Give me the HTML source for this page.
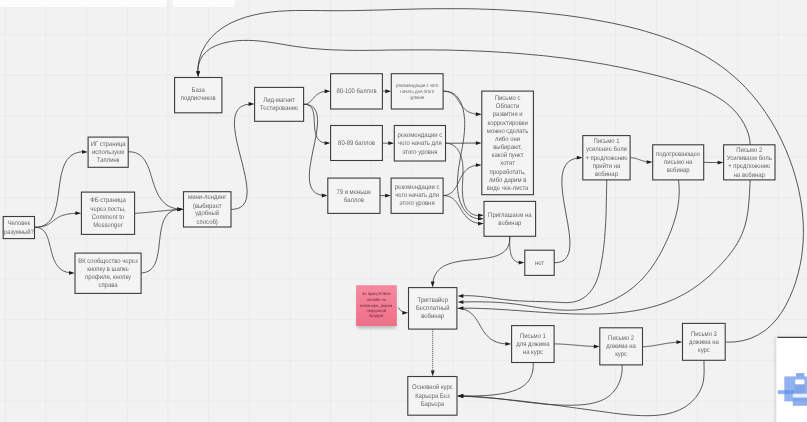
<!DOCTYPE html>
<html><head><meta charset="utf-8"><title>Воронка</title>
<style>
html,body{margin:0;padding:0;background:#f2f2f2;}
body{width:807px;height:422px;overflow:hidden;}
text{text-rendering:geometricPrecision;}
body{position:relative;}
svg{position:absolute;left:-10px;top:-10px;display:block;font-family:"Liberation Sans",sans-serif;opacity:0.999;will-change:transform;}
</style></head><body>
<svg width="827" height="442" viewBox="-10 -10 827 442">
<defs>
<pattern id="grid" x="4.6" y="34.2" width="40.7" height="40.7" patternUnits="userSpaceOnUse"><path d="M0.5 0V40.7M0 0.5H40.7" stroke="#eaeaea" stroke-width="1" fill="none"/></pattern>
<linearGradient id="st" x1="0" y1="0" x2="0" y2="1"><stop offset="0" stop-color="#f48a9d"/><stop offset="1" stop-color="#ef6f89"/></linearGradient>
<filter id="sh" x="-20%" y="-20%" width="140%" height="150%"><feGaussianBlur stdDeviation="1.6"/></filter>
</defs>
<rect x="-10" y="-10" width="827" height="442" fill="#f2f2f2"/>
<rect x="-10" y="-10" width="827" height="442" fill="url(#grid)"/>
<rect x="-12" y="-12" width="179" height="19" rx="1.5" fill="#fdfdfd"/>
<rect x="173" y="-12" width="61.5" height="19" rx="1.5" fill="#fdfdfd"/>
<g fill="none" stroke="#3a3a3a" stroke-width="0.85" stroke-linecap="butt" stroke-linejoin="round">
<path d="M34.5 227.3 36.5 227.2 38.3 227.1 40.1 226.7 41.7 226.3 43.2 225.7 44.7 225.1 46.0 224.3 47.2 223.4 48.3 222.4 49.4 221.3 50.4 220.1 51.3 218.9 52.1 217.5 52.8 216.1 53.5 214.6 54.2 213.1 54.7 211.5 55.3 209.8 55.7 208.1 56.2 206.3 56.6 204.5 56.9 202.6 57.3 200.7 57.6 198.8 57.9 196.9 58.2 194.9 58.5 193.0 58.7 191.0 59.0 189.0 59.2 187.0 59.5 185.1 59.8 183.1 60.1 181.2 60.4 179.2 60.8 177.3 61.1 175.5 61.5 173.6 62.0 171.8 62.5 170.1 63.0 168.4 63.6 166.7 64.2 165.1 64.9 163.6 65.7 162.2 66.5 160.8 67.4 159.5 68.4 158.3 69.5 157.1 70.6 156.1 71.9 155.2 73.2 154.3 74.6 153.6 76.2 153.0 77.8 152.5 79.6 152.1 81.4 151.8 83.4 151.7 84.6 151.7"/>
<path d="M34.5 227.3 35.7 227.3 36.8 227.2 37.8 227.2 38.8 227.1 39.8 227.0 40.7 226.8 41.6 226.7 42.4 226.5 43.2 226.3 44.0 226.1 44.7 225.9 45.4 225.7 46.0 225.4 46.6 225.2 47.2 224.9 47.8 224.6 48.4 224.3 48.9 224.0 49.4 223.7 49.9 223.4 50.4 223.0 50.9 222.7 51.3 222.3 51.8 222.0 52.3 221.6 52.7 221.3 53.2 220.9 53.6 220.6 54.1 220.2 54.6 219.8 55.0 219.5 55.5 219.1 56.0 218.8 56.6 218.4 57.1 218.1 57.7 217.7 58.2 217.4 58.8 217.0 59.5 216.7 60.1 216.4 60.8 216.1 61.6 215.8 62.3 215.5 63.1 215.3 64.0 215.0 64.8 214.8 65.8 214.5 66.7 214.3 67.8 214.1 68.8 213.9 70.0 213.8 71.2 213.6 72.4 213.5 73.7 213.4 75.1 213.3 76.5 213.2 78.0 213.2 78.0 213.2"/>
<path d="M34.5 227.3 35.7 227.3 36.8 227.4 37.8 227.6 38.8 227.8 39.7 228.1 40.6 228.5 41.4 228.9 42.2 229.4 42.9 230.0 43.6 230.6 44.2 231.3 44.8 232.1 45.3 232.9 45.8 233.7 46.3 234.6 46.7 235.5 47.2 236.5 47.6 237.5 47.9 238.5 48.3 239.5 48.6 240.6 48.9 241.7 49.2 242.8 49.5 244.0 49.8 245.2 50.1 246.3 50.4 247.5 50.7 248.7 51.0 249.9 51.3 251.1 51.6 252.3 51.9 253.4 52.3 254.6 52.6 255.8 53.0 256.9 53.4 258.1 53.8 259.2 54.3 260.3 54.8 261.3 55.3 262.4 55.8 263.4 56.4 264.4 57.0 265.3 57.7 266.2 58.4 267.0 59.2 267.9 60.0 268.6 60.9 269.3 61.8 270.0 62.8 270.6 63.8 271.1 65.0 271.6 66.1 272.0 67.4 272.3 68.7 272.6 70.1 272.8 71.6 272.9"/>
<path d="M128.2 151.8 129.8 151.8 131.4 151.9 132.8 152.1 134.2 152.4 135.5 152.8 136.8 153.3 137.9 153.9 139.0 154.5 140.1 155.2 141.0 156.0 141.9 156.8 142.8 157.7 143.6 158.7 144.4 159.7 145.1 160.8 145.8 162.0 146.4 163.1 147.0 164.4 147.6 165.6 148.1 166.9 148.7 168.2 149.2 169.6 149.7 171.0 150.1 172.4 150.6 173.8 151.0 175.3 151.5 176.7 151.9 178.2 152.4 179.7 152.8 181.2 153.3 182.6 153.8 184.1 154.3 185.6 154.8 187.0 155.3 188.4 155.9 189.8 156.5 191.2 157.1 192.6 157.7 193.9 158.4 195.2 159.2 196.5 159.9 197.7 160.8 198.9 161.7 200.1 162.6 201.2 163.6 202.2 164.6 203.2 165.8 204.1 166.9 205.0 168.2 205.8 169.5 206.5 170.9 207.1 172.4 207.7 174.0 208.2 175.7 208.6 177.4 208.9 179.3 209.1 180.1 209.2"/>
<path d="M134.6 213.4 135.0 213.4 135.5 213.4 136.0 213.3 136.6 213.3 137.1 213.3 137.7 213.2 138.3 213.2 139.0 213.1 139.6 213.1 140.3 213.0 141.0 212.9 141.8 212.9 142.5 212.8 143.3 212.7 144.1 212.7 144.9 212.6 145.7 212.5 146.6 212.4 147.4 212.3 148.3 212.3 149.2 212.2 150.1 212.1 151.0 212.0 151.9 211.9 152.8 211.8 153.8 211.7 154.7 211.6 155.7 211.5 156.6 211.4 157.6 211.3 158.6 211.2 159.5 211.1 160.5 211.1 161.5 211.0 162.4 210.9 163.4 210.8 164.4 210.7 165.3 210.6 166.3 210.5 167.3 210.4 168.2 210.3 169.2 210.2 170.1 210.2 171.0 210.1 171.9 210.0 172.9 209.9 173.8 209.9 174.6 209.8 175.5 209.7 176.4 209.7 177.2 209.6 178.0 209.6 178.9 209.5 179.6 209.5 180.1 209.4"/>
<path d="M141.1 272.9 142.6 272.8 144.1 272.6 145.4 272.3 146.7 271.9 147.9 271.4 149.0 270.8 150.0 270.1 150.9 269.4 151.8 268.5 152.6 267.6 153.3 266.6 154.0 265.5 154.6 264.4 155.2 263.2 155.7 261.9 156.2 260.6 156.6 259.3 157.0 257.9 157.3 256.4 157.6 254.9 157.9 253.4 158.2 251.9 158.4 250.3 158.7 248.7 158.9 247.1 159.1 245.4 159.2 243.8 159.4 242.2 159.6 240.5 159.8 238.9 160.0 237.2 160.2 235.6 160.4 234.0 160.7 232.3 161.0 230.8 161.2 229.2 161.6 227.7 161.9 226.2 162.3 224.7 162.7 223.3 163.2 221.9 163.7 220.6 164.3 219.3 164.9 218.1 165.6 216.9 166.4 215.8 167.2 214.8 168.0 213.9 169.0 213.0 170.0 212.2 171.1 211.5 172.3 210.9 173.6 210.3 175.0 209.9 176.4 209.6 178.0 209.3 179.7 209.2 180.1 209.2"/>
<path d="M231.0 209.4 233.3 209.3 235.4 209.0 237.3 208.6 239.0 208.0 240.5 207.2 241.9 206.3 243.0 205.2 244.0 204.0 244.9 202.6 245.6 201.1 246.1 199.5 246.6 197.8 246.8 196.0 247.0 194.0 247.1 192.0 247.1 189.9 246.9 187.7 246.7 185.4 246.4 183.0 246.0 180.6 245.6 178.1 245.1 175.6 244.5 173.0 243.9 170.4 243.3 167.7 242.7 165.1 242.0 162.4 241.3 159.7 240.6 156.9 239.9 154.2 239.2 151.5 238.5 148.8 237.9 146.1 237.3 143.5 236.7 140.8 236.2 138.3 235.7 135.7 235.3 133.2 235.0 130.8 234.7 128.4 234.5 126.1 234.4 123.9 234.5 121.8 234.6 119.7 234.8 117.8 235.2 115.9 235.7 114.2 236.3 112.5 237.1 111.0 238.0 109.7 239.1 108.4 240.3 107.3 241.7 106.4 243.4 105.6 245.2 104.9 247.1 104.5 249.4 104.2 251.2 104.1"/>
<path d="M303.6 104.4 304.1 104.4 304.6 104.3 305.1 104.2 305.6 104.1 306.1 104.0 306.5 103.9 306.9 103.7 307.3 103.6 307.7 103.4 308.1 103.2 308.5 103.0 308.8 102.7 309.2 102.5 309.5 102.2 309.8 101.9 310.2 101.7 310.5 101.4 310.8 101.1 311.1 100.8 311.4 100.4 311.7 100.1 312.0 99.8 312.3 99.5 312.6 99.1 312.9 98.8 313.2 98.4 313.5 98.1 313.8 97.7 314.1 97.4 314.4 97.1 314.7 96.7 315.0 96.4 315.4 96.0 315.7 95.7 316.1 95.4 316.5 95.1 316.8 94.7 317.2 94.4 317.6 94.1 318.1 93.9 318.5 93.6 319.0 93.3 319.5 93.1 320.0 92.8 320.5 92.6 321.0 92.4 321.6 92.2 322.2 92.0 322.8 91.8 323.4 91.7 324.1 91.6 324.8 91.4 325.5 91.4 326.2 91.3 327.0 91.2 327.2 91.2"/>
<path d="M303.6 104.3 304.6 104.3 305.6 104.4 306.5 104.5 307.3 104.7 308.1 105.0 308.8 105.3 309.5 105.7 310.1 106.1 310.6 106.6 311.1 107.2 311.5 107.8 311.9 108.4 312.3 109.1 312.6 109.8 312.9 110.6 313.1 111.4 313.3 112.2 313.5 113.1 313.7 114.0 313.8 114.9 313.9 115.9 314.0 116.8 314.1 117.8 314.2 118.8 314.2 119.8 314.3 120.8 314.3 121.8 314.4 122.8 314.4 123.9 314.5 124.9 314.6 125.9 314.6 126.9 314.7 128.0 314.8 129.0 314.9 130.0 315.1 130.9 315.2 131.9 315.4 132.8 315.7 133.7 315.9 134.6 316.2 135.5 316.5 136.3 316.9 137.1 317.3 137.8 317.7 138.6 318.2 139.2 318.8 139.9 319.4 140.4 320.1 141.0 320.8 141.5 321.6 141.9 322.4 142.3 323.3 142.6 324.3 142.8 325.4 143.0 326.5 143.2 327.2 143.2"/>
<path d="M303.6 104.3 305.5 104.4 307.3 104.6 308.9 105.0 310.3 105.5 311.6 106.2 312.8 107.0 313.8 107.9 314.6 109.0 315.4 110.1 316.0 111.4 316.5 112.8 316.9 114.3 317.2 115.9 317.4 117.5 317.5 119.3 317.6 121.1 317.5 123.0 317.4 125.0 317.2 127.0 317.0 129.1 316.7 131.3 316.4 133.5 316.0 135.7 315.6 137.9 315.1 140.2 314.7 142.5 314.2 144.9 313.7 147.2 313.2 149.5 312.7 151.9 312.3 154.2 311.8 156.6 311.3 158.9 310.9 161.2 310.6 163.4 310.2 165.7 309.9 167.9 309.7 170.0 309.5 172.1 309.4 174.2 309.3 176.2 309.4 178.1 309.5 180.0 309.7 181.7 310.0 183.4 310.4 185.0 310.9 186.6 311.5 188.0 312.2 189.3 313.1 190.5 314.1 191.6 315.2 192.6 316.5 193.4 318.0 194.1 319.5 194.7 321.3 195.1 323.2 195.4 324.4 195.5"/>
<path d="M382.4 91.2 383.2 91.2 384.0 91.2 384.8 91.2 385.6 91.2 386.4 91.2 387.1 91.2 387.9 91.2"/>
<path d="M382.4 143.2 383.5 143.2 384.5 143.2 385.6 143.2 386.7 143.2 387.7 143.2 388.8 143.2 389.8 143.2 390.9 143.2"/>
<path d="M380.0 195.6 381.0 195.6 382.0 195.6 383.0 195.6 384.0 195.6 385.0 195.6 385.9 195.6 386.9 195.6 387.7 195.6"/>
<path d="M443.1 91.2 444.1 91.2 445.1 91.3 446.0 91.4 446.8 91.5 447.7 91.7 448.4 91.9 449.2 92.2 449.9 92.4 450.6 92.7 451.2 93.1 451.8 93.4 452.4 93.8 453.0 94.2 453.5 94.7 454.0 95.1 454.5 95.6 455.0 96.1 455.4 96.6 455.9 97.1 456.3 97.6 456.7 98.2 457.1 98.7 457.5 99.3 457.9 99.9 458.2 100.5 458.6 101.0 459.0 101.6 459.4 102.2 459.8 102.8 460.1 103.4 460.5 104.0 460.9 104.6 461.3 105.2 461.8 105.8 462.2 106.3 462.6 106.9 463.1 107.5 463.6 108.0 464.1 108.5 464.6 109.0 465.2 109.5 465.8 110.0 466.4 110.5 467.0 110.9 467.7 111.4 468.4 111.8 469.2 112.1 470.0 112.5 470.8 112.8 471.6 113.1 472.5 113.4 473.5 113.6 474.5 113.8 475.6 113.9 476.7 114.1 477.8 114.2 478.4 114.2"/>
<path d="M443.1 91.2 444.8 91.2 446.5 91.3 448.0 91.6 449.5 91.9 450.9 92.4 452.1 92.9 453.3 93.6 454.5 94.3 455.5 95.2 456.5 96.1 457.4 97.0 458.2 98.1 459.0 99.2 459.7 100.4 460.3 101.6 460.9 102.8 461.4 104.1 461.9 105.4 462.4 106.8 462.7 108.2 463.1 109.6 463.4 110.9 463.7 112.3 463.9 113.7 464.1 115.1 464.3 116.5 464.4 117.9 464.6 119.3 464.6 120.7 464.7 122.1 464.7 123.4 464.7 124.8 464.7 126.2 464.7 127.6 464.6 129.0 464.5 130.4 464.4 131.8 464.3 133.2 464.1 134.6 464.0 136.0 463.8 137.3 463.6 138.7 463.4 140.1 463.2 141.5 463.0 142.9 462.8 144.3 462.5 145.8 462.3 147.2 462.1 148.6 461.8 150.0 461.5 151.4 461.3 152.8 461.0 154.2 460.8 155.7 460.5 157.1 460.3 158.5 460.0 160.0 459.7 161.4 459.5 162.8 459.3 164.3 459.0 165.7 458.8 167.2 458.6 168.7 458.4 170.1 458.2 171.6 458.1 173.0 457.9 174.5 457.8 176.0 457.7 177.4 457.6 178.9 457.5 180.3 457.4 181.8 457.4 183.2 457.4 184.7 457.4 186.1 457.5 187.5 457.6 188.9 457.7 190.3 457.9 191.7 458.0 193.1 458.3 194.5 458.5 195.8 458.8 197.2 459.2 198.5 459.5 199.8 459.9 201.1 460.4 202.4 460.9 203.6 461.5 204.9 462.1 206.1 462.7 207.3 463.4 208.5 464.2 209.6 465.0 210.7 465.8 211.8 466.8 212.8 467.7 213.8 468.7 214.7 469.8 215.5 471.0 216.3 472.1 216.9 473.4 217.5 474.7 218.0 476.1 218.4 477.5 218.7 479.0 218.9 480.5 218.9 480.6 218.9"/>
<path d="M445.5 143.2 448.8 143.2 452.1 143.2 455.3 143.2 458.6 143.2 461.9 143.2 465.2 143.1 468.5 143.1 471.8 143.1 475.0 143.1 478.3 143.1 478.4 143.1"/>
<path d="M445.5 143.2 446.5 143.2 447.5 143.3 448.4 143.5 449.3 143.7 450.1 143.9 451.0 144.2 451.8 144.5 452.5 144.9 453.2 145.4 453.9 145.8 454.6 146.3 455.2 146.9 455.8 147.4 456.4 148.0 457.0 148.7 457.5 149.3 458.0 150.0 458.4 150.7 458.9 151.4 459.3 152.2 459.6 152.9 460.0 153.7 460.3 154.5 460.7 155.3 460.9 156.1 461.2 156.9 461.4 157.7 461.7 158.5 461.9 159.3 462.0 160.2 462.2 161.0 462.3 161.8 462.5 162.7 462.6 163.5 462.7 164.4 462.8 165.2 462.8 166.1 462.9 166.9 462.9 167.8 462.9 168.7 463.0 169.5 463.0 170.4 463.0 171.3 463.0 172.2 463.0 173.1 462.9 174.0 462.9 174.8 462.9 175.7 462.8 176.6 462.8 177.5 462.8 178.4 462.7 179.3 462.7 180.2 462.6 181.1 462.6 182.0 462.6 182.9 462.5 183.8 462.5 184.8 462.5 185.7 462.4 186.6 462.4 187.5 462.4 188.4 462.4 189.3 462.4 190.2 462.4 191.1 462.5 192.1 462.5 193.0 462.6 193.9 462.6 194.8 462.7 195.7 462.8 196.6 462.9 197.5 463.0 198.3 463.2 199.2 463.3 200.1 463.5 200.9 463.7 201.7 463.9 202.6 464.1 203.4 464.4 204.2 464.6 204.9 464.9 205.7 465.3 206.4 465.6 207.1 466.0 207.8 466.4 208.5 466.8 209.2 467.3 209.8 467.7 210.4 468.3 211.0 468.8 211.5 469.4 212.1 470.0 212.6 470.6 213.0 471.3 213.4 472.0 213.8 472.7 214.2 473.4 214.5 474.2 214.8 475.0 215.1 475.9 215.3 476.8 215.4 477.7 215.6 478.6 215.6 479.6 215.7 480.6 215.7 480.6 215.7"/>
<path d="M443.1 195.6 444.1 195.5 445.0 195.4 445.9 195.2 446.8 195.0 447.6 194.8 448.4 194.4 449.1 194.1 449.8 193.7 450.5 193.3 451.2 192.8 451.8 192.4 452.3 191.8 452.9 191.3 453.4 190.7 453.9 190.1 454.4 189.5 454.9 188.8 455.3 188.2 455.8 187.5 456.2 186.8 456.6 186.1 457.0 185.3 457.4 184.6 457.8 183.8 458.1 183.1 458.5 182.3 458.9 181.5 459.3 180.7 459.6 180.0 460.0 179.2 460.4 178.4 460.8 177.6 461.2 176.9 461.6 176.1 462.1 175.4 462.5 174.6 463.0 173.9 463.5 173.2 464.0 172.5 464.5 171.9 465.1 171.2 465.7 170.6 466.3 170.0 466.9 169.4 467.6 168.8 468.3 168.3 469.1 167.8 469.9 167.4 470.7 167.0 471.6 166.6 472.5 166.2 473.5 165.9 474.5 165.7 475.5 165.5 476.6 165.3 477.8 165.2 478.4 165.1"/>
<path d="M443.1 195.6 444.1 195.6 445.1 195.7 446.0 195.8 446.9 195.9 447.7 196.1 448.5 196.3 449.3 196.6 450.1 196.9 450.8 197.3 451.5 197.7 452.1 198.1 452.7 198.5 453.3 199.0 453.9 199.5 454.5 200.1 455.0 200.6 455.6 201.2 456.1 201.8 456.6 202.4 457.0 203.1 457.5 203.8 458.0 204.4 458.4 205.1 458.9 205.8 459.3 206.5 459.8 207.2 460.2 207.9 460.6 208.7 461.1 209.4 461.5 210.1 462.0 210.8 462.4 211.6 462.9 212.3 463.4 213.0 463.9 213.7 464.4 214.4 464.9 215.1 465.5 215.7 466.0 216.4 466.6 217.0 467.2 217.6 467.8 218.2 468.5 218.8 469.2 219.4 469.9 219.9 470.6 220.4 471.4 220.8 472.2 221.3 473.0 221.7 473.9 222.1 474.8 222.4 475.8 222.7 476.8 223.0 477.8 223.2 478.9 223.4 480.1 223.5 480.6 223.5"/>
<path d="M509.7 236.3 509.7 237.6 509.6 238.9 509.6 240.1 509.6 241.3 509.6 242.4 509.6 243.5 509.7 244.6 509.7 245.6 509.8 246.6 509.9 247.5 509.9 248.4 510.0 249.3 510.1 250.1 510.3 250.9 510.4 251.7 510.5 252.4 510.7 253.1 510.8 253.8 511.0 254.4 511.2 255.0 511.4 255.6 511.6 256.1 511.8 256.6 512.0 257.1 512.3 257.6 512.5 258.0 512.7 258.4 513.0 258.8 513.3 259.2 513.5 259.5 513.8 259.9 514.1 260.1 514.4 260.4 514.7 260.7 515.0 260.9 515.4 261.1 515.7 261.3 516.0 261.5 516.4 261.7 516.7 261.8 517.1 262.0 517.4 262.1 517.8 262.2 518.2 262.3 518.6 262.4 519.0 262.4 519.4 262.5 519.8 262.5 520.2 262.6 520.6 262.6 521.0 262.6 521.3 262.6"/>
<path d="M509.7 236.3 509.8 238.3 509.7 240.2 509.5 241.9 509.1 243.6 508.7 245.1 508.1 246.5 507.4 247.8 506.6 249.0 505.7 250.1 504.6 251.1 503.5 252.1 502.3 252.9 501.1 253.7 499.7 254.4 498.3 255.1 496.8 255.7 495.2 256.2 493.6 256.7 491.9 257.1 490.1 257.5 488.3 257.8 486.5 258.1 484.6 258.4 482.7 258.6 480.8 258.9 478.9 259.1 476.9 259.3 474.9 259.5 472.9 259.7 470.9 259.9 468.9 260.1 466.9 260.3 465.0 260.5 463.0 260.8 461.0 261.0 459.1 261.4 457.2 261.7 455.4 262.1 453.5 262.5 451.8 263.0 450.0 263.5 448.4 264.1 446.7 264.7 445.2 265.5 443.7 266.2 442.3 267.1 440.9 268.1 439.7 269.1 438.5 270.2 437.4 271.4 436.5 272.7 435.6 274.2 434.8 275.7 434.1 277.3 433.6 279.1 433.1 281.0 432.8 283.0 432.7 284.2"/>
<path d="M554.1 262.6 556.2 262.6 558.2 262.4 560.0 262.0 561.6 261.5 563.0 260.8 564.3 259.9 565.4 258.9 566.4 257.7 567.2 256.4 567.9 255.0 568.5 253.5 569.0 251.8 569.4 250.0 569.6 248.2 569.8 246.2 569.9 244.1 569.9 242.0 569.8 239.7 569.6 237.4 569.4 235.1 569.1 232.6 568.8 230.1 568.4 227.6 568.0 225.0 567.6 222.4 567.1 219.8 566.6 217.1 566.1 214.4 565.6 211.7 565.1 209.0 564.7 206.3 564.2 203.7 563.8 201.0 563.3 198.3 563.0 195.7 562.6 193.1 562.4 190.6 562.1 188.1 562.0 185.7 561.9 183.3 561.9 181.0 562.0 178.7 562.1 176.5 562.4 174.5 562.8 172.5 563.2 170.6 563.8 168.8 564.6 167.1 565.4 165.5 566.4 164.1 567.5 162.8 568.8 161.6 570.3 160.6 571.9 159.7 573.6 159.0 575.6 158.4 577.7 158.0 579.4 157.8"/>
<path d="M630.1 157.7 630.5 157.7 631.0 157.7 631.4 157.7 631.8 157.8 632.2 157.8 632.6 157.8 633.0 157.9 633.3 157.9 633.7 158.0 634.0 158.0 634.4 158.1 634.7 158.2 635.0 158.2 635.4 158.3 635.7 158.4 636.0 158.5 636.3 158.6 636.6 158.7 636.9 158.8 637.2 158.9 637.5 159.0 637.8 159.1 638.1 159.2 638.3 159.3 638.6 159.4 638.9 159.5 639.2 159.6 639.5 159.7 639.8 159.8 640.1 160.0 640.4 160.1 640.7 160.2 641.0 160.3 641.3 160.4 641.6 160.5 642.0 160.6 642.3 160.7 642.6 160.8 643.0 160.9 643.4 161.0 643.7 161.1 644.1 161.2 644.5 161.3 644.9 161.4 645.3 161.5 645.7 161.6 646.1 161.6 646.6 161.7 647.0 161.8 647.5 161.8 648.0 161.9 648.5 161.9 649.0 162.0 649.3 162.0"/>
<path d="M703.7 162.4 705.5 162.4 707.3 162.4 709.1 162.5 710.9 162.5 712.7 162.5 714.4 162.5 716.2 162.5 718.0 162.5 719.8 162.6 720.2 162.6"/>
<path d="M750.2 144.8 749.7 139.4 748.4 133.9 746.4 128.6 743.9 123.5 740.9 118.7 737.5 114.1 733.8 109.9 729.9 106.1 725.7 102.6 721.2 99.5 716.6 96.6 711.8 93.9 706.9 91.5 701.8 89.3 696.6 87.3 691.3 85.5 686.0 83.7 680.6 82.1 675.1 80.5 669.7 79.0 664.3 77.5 658.8 76.1 653.4 74.7 647.9 73.4 642.4 72.1 637.0 70.8 631.5 69.6 626.0 68.5 620.5 67.3 615.1 66.3 609.6 65.2 604.1 64.2 598.6 63.3 593.1 62.4 587.6 61.5 582.0 60.6 576.5 59.8 571.0 59.1 565.5 58.3 560.0 57.6 554.4 57.0 548.9 56.3 543.4 55.7 537.8 55.2 532.3 54.7 526.7 54.2 521.2 53.7 515.7 53.3 510.1 52.8 504.5 52.5 499.0 52.1 493.4 51.8 487.9 51.5 482.3 51.2 476.7 51.0 471.2 50.8 465.6 50.6 460.0 50.4 454.4 50.3 448.9 50.1 443.3 50.0 437.7 50.0 432.1 49.9 426.5 49.9 421.0 49.9 415.4 49.9 409.8 49.9 404.2 49.9 398.6 50.0 393.0 50.0 387.4 50.1 381.9 50.2 376.3 50.3 370.7 50.3 365.1 50.4 359.5 50.4 353.9 50.4 348.3 50.3 342.8 50.2 337.2 50.0 331.6 49.8 326.0 49.5 320.5 49.1 314.9 48.7 309.3 48.2 303.7 47.5 298.2 46.8 292.6 46.0 287.1 45.1 281.5 44.1 276.0 43.2 270.4 42.4 264.9 41.6 259.3 41.0 253.8 40.6 248.2 40.4 242.7 40.4 237.1 40.7 231.6 41.4 226.0 42.4 220.6 43.9 215.5 45.8 210.7 48.3 206.5 51.5 203.0 55.3 200.2 59.8 198.5 65.1 197.8 71.0 197.9 73.8"/>
<path d="M725.2 342.1 734.3 342.0 742.8 340.7 750.9 338.3 758.3 334.8 765.2 330.4 771.3 325.1 776.8 319.0 781.7 312.3 786.0 305.0 789.7 297.4 793.0 289.6 795.8 281.7 798.1 273.7 800.0 265.6 801.5 257.4 802.5 249.2 803.2 241.0 803.4 232.7 803.3 224.4 802.7 216.1 801.9 207.9 800.6 199.6 799.1 191.3 797.1 183.1 794.9 175.0 792.4 166.9 789.5 158.9 786.4 151.0 782.9 143.2 779.2 135.5 775.2 128.0 770.9 120.7 766.3 113.6 761.5 106.7 756.4 100.0 751.0 93.6 745.4 87.4 739.5 81.5 733.4 76.0 727.0 70.7 720.5 65.8 713.7 61.2 706.7 56.8 699.6 52.8 692.2 49.0 684.7 45.5 677.1 42.2 669.4 39.1 661.5 36.3 653.5 33.7 645.5 31.3 637.3 29.0 629.1 26.9 620.9 25.0 612.6 23.2 604.3 21.6 596.0 20.1 587.7 18.6 579.4 17.3 571.1 16.1 562.8 15.0 554.4 14.1 546.1 13.2 537.8 12.3 529.5 11.6 521.2 11.0 512.8 10.5 504.5 10.0 496.2 9.6 487.8 9.3 479.5 9.0 471.2 8.8 462.8 8.7 454.5 8.7 446.1 8.7 437.8 8.7 429.5 8.8 421.1 8.9 412.8 9.1 404.4 9.3 396.1 9.5 387.7 9.8 379.3 10.0 371.0 10.2 362.6 10.4 354.2 10.6 345.8 10.7 337.4 10.7 329.0 10.7 320.6 10.6 312.2 10.5 303.8 10.5 295.4 10.5 287.0 10.8 278.6 11.3 270.3 12.1 262.0 13.3 253.8 15.0 245.6 17.2 237.7 20.0 230.0 23.4 222.9 27.6 216.3 32.5 210.5 38.2 205.6 44.8 201.7 52.0 199.1 59.8 197.8 68.2 198.0 73.8"/>
<path d="M606.8 180.0 606.7 182.4 606.7 184.8 606.6 187.2 606.6 189.6 606.5 191.9 606.5 194.3 606.4 196.6 606.4 198.9 606.3 201.2 606.3 203.5 606.2 205.8 606.2 208.0 606.1 210.3 606.1 212.6 606.0 214.8 605.9 217.1 605.8 219.3 605.7 221.6 605.6 223.8 605.5 226.0 605.3 228.3 605.2 230.5 605.0 232.7 604.9 235.0 604.7 237.2 604.5 239.5 604.3 241.7 604.0 244.0 603.8 246.3 603.5 248.6 603.2 250.9 602.9 253.2 602.6 255.5 602.2 257.8 601.8 260.1 601.4 262.5 601.0 264.8 600.5 267.2 600.0 269.5 599.5 271.8 598.8 274.1 598.2 276.4 597.4 278.6 596.6 280.8 595.7 283.0 594.7 285.0 593.6 287.0 592.4 288.9 591.1 290.7 589.7 292.5 588.2 294.1 586.5 295.6 584.8 297.0 582.9 298.3 580.9 299.4 578.9 300.4 576.8 301.1 574.6 301.7 572.4 302.2 570.2 302.4 567.9 302.6 565.6 302.6 563.3 302.6 560.9 302.5 558.6 302.3 556.2 302.2 553.9 302.1 551.6 301.9 549.2 301.8 546.9 301.8 544.6 301.7 542.3 301.6 540.0 301.6 537.7 301.5 535.4 301.5 533.1 301.4 530.8 301.3 528.6 301.3 526.3 301.2 524.0 301.1 521.7 301.0 519.5 300.9 517.2 300.8 514.9 300.6 512.6 300.4 510.3 300.2 508.1 300.0 505.8 299.7 503.5 299.5 501.2 299.2 498.9 298.9 496.6 298.6 494.3 298.3 492.0 297.9 489.8 297.6 487.5 297.3 485.2 297.0 482.9 296.8 480.6 296.5 478.3 296.3 476.0 296.1 473.7 295.9 471.4 295.8 469.1 295.7 466.8 295.7 464.5 295.7 462.2 295.7 460.8 295.8"/>
<path d="M678.5 180.0 678.8 182.8 679.0 185.6 679.2 188.4 679.2 191.2 679.2 193.9 679.0 196.7 678.8 199.4 678.5 202.1 678.1 204.8 677.7 207.5 677.2 210.2 676.6 212.9 675.9 215.5 675.2 218.2 674.4 220.8 673.6 223.4 672.7 226.1 671.7 228.7 670.8 231.3 669.7 233.8 668.6 236.4 667.5 239.0 666.4 241.5 665.2 244.1 663.9 246.6 662.7 249.1 661.4 251.6 660.0 254.1 658.6 256.6 657.2 259.0 655.7 261.4 654.2 263.7 652.6 266.0 651.0 268.3 649.3 270.6 647.6 272.7 645.8 274.9 644.0 277.0 642.2 279.0 640.2 281.0 638.2 282.9 636.2 284.8 634.1 286.6 632.0 288.3 629.8 290.0 627.6 291.6 625.3 293.1 623.0 294.6 620.6 296.0 618.2 297.4 615.8 298.6 613.3 299.9 610.8 301.0 608.3 302.1 605.8 303.1 603.2 304.1 600.6 305.0 597.9 305.8 595.3 306.6 592.6 307.2 589.9 307.9 587.2 308.4 584.5 308.9 581.8 309.3 579.1 309.6 576.3 309.9 573.6 310.1 570.8 310.2 568.1 310.2 565.3 310.2 562.6 310.1 559.8 310.0 557.1 309.8 554.3 309.6 551.5 309.3 548.8 309.0 546.0 308.7 543.2 308.3 540.5 307.9 537.7 307.5 535.0 307.1 532.2 306.6 529.4 306.2 526.7 305.8 523.9 305.3 521.1 304.9 518.4 304.5 515.6 304.1 512.9 303.8 510.1 303.5 507.4 303.2 504.6 302.9 501.8 302.7 499.1 302.5 496.3 302.3 493.6 302.2 490.8 302.1 488.1 302.0 485.3 301.9 482.6 301.9 479.8 301.8 477.0 301.8 474.3 301.8 471.5 301.8 468.7 301.9 466.0 301.9 463.2 302.0 460.8 302.0"/>
<path d="M750.2 180.0 750.0 183.3 749.8 186.7 749.7 190.1 749.5 193.5 749.3 196.9 749.0 200.4 748.7 203.8 748.4 207.2 748.0 210.6 747.5 214.0 746.9 217.4 746.2 220.7 745.4 224.0 744.5 227.2 743.4 230.4 742.2 233.5 740.9 236.5 739.4 239.5 737.8 242.4 736.1 245.3 734.3 248.1 732.3 250.8 730.3 253.5 728.2 256.2 726.0 258.8 723.8 261.3 721.5 263.8 719.2 266.3 716.8 268.7 714.3 271.2 711.9 273.5 709.4 275.8 706.8 278.1 704.2 280.3 701.5 282.4 698.8 284.5 696.1 286.5 693.2 288.5 690.4 290.3 687.5 292.1 684.6 293.8 681.6 295.4 678.6 297.0 675.6 298.5 672.5 299.8 669.4 301.1 666.3 302.4 663.1 303.5 660.0 304.6 656.8 305.6 653.6 306.5 650.3 307.4 647.1 308.2 643.8 309.0 640.5 309.7 637.2 310.3 633.8 310.9 630.5 311.4 627.1 311.9 623.8 312.3 620.4 312.6 617.0 313.0 613.6 313.2 610.2 313.5 606.8 313.7 603.4 313.8 599.9 314.0 596.5 314.0 593.1 314.1 589.7 314.1 586.3 314.1 582.8 314.1 579.4 314.0 576.0 314.0 572.6 313.9 569.2 313.8 565.8 313.6 562.4 313.5 559.0 313.3 555.7 313.1 552.3 312.9 548.9 312.7 545.5 312.5 542.2 312.3 538.8 312.1 535.4 311.8 532.0 311.6 528.7 311.4 525.3 311.1 521.9 310.9 518.6 310.6 515.2 310.4 511.8 310.2 508.5 309.9 505.1 309.7 501.7 309.5 498.3 309.3 495.0 309.1 491.6 308.9 488.2 308.8 484.8 308.6 481.4 308.5 478.0 308.4 474.6 308.3 471.2 308.2 467.8 308.2 464.4 308.2 461.0 308.2 460.8 308.2"/>
<path d="M457.3 308.2 458.7 308.3 460.1 308.5 461.4 308.7 462.6 309.0 463.8 309.3 464.9 309.6 466.0 310.1 467.0 310.5 467.9 311.0 468.8 311.6 469.7 312.1 470.5 312.8 471.3 313.4 472.1 314.1 472.8 314.8 473.5 315.6 474.1 316.3 474.8 317.1 475.4 317.9 476.0 318.8 476.6 319.6 477.1 320.5 477.7 321.3 478.2 322.2 478.7 323.1 479.2 324.0 479.8 324.9 480.3 325.9 480.8 326.8 481.4 327.7 481.9 328.6 482.4 329.5 483.0 330.4 483.6 331.3 484.2 332.1 484.8 333.0 485.5 333.8 486.1 334.6 486.8 335.4 487.6 336.2 488.4 337.0 489.2 337.7 490.0 338.4 490.9 339.1 491.8 339.7 492.8 340.3 493.9 340.9 495.0 341.4 496.1 341.9 497.3 342.3 498.6 342.7 499.9 343.0 501.3 343.3 502.8 343.6 504.3 343.7 505.9 343.9 507.6 343.9 508.0 343.9"/>
<path d="M432.7 329.1 432.7 333.4 432.7 337.7 432.7 342.0 432.7 346.3 432.7 350.6 432.7 354.8 432.7 359.1 432.7 363.4 432.7 367.7 432.7 372.0 432.7 373.1" stroke-dasharray="1.1 0.9" stroke-linecap="butt"/>
<path d="M398.0 307.9 398.1 307.9 398.2 307.9 398.3 307.9 398.4 308.0 398.5 308.0 398.5 308.0 398.6 308.1 398.7 308.1 398.8 308.2 398.9 308.3 398.9 308.3 399.0 308.4 399.1 308.5 399.1 308.6 399.2 308.7 399.3 308.8 399.4 308.9 399.4 309.0 399.5 309.1 399.6 309.2 399.7 309.3 399.8 309.4 399.9 309.6 399.9 309.7 400.0 309.8 400.1 309.9 400.2 310.0 400.4 310.2 400.5 310.3 400.6 310.4 400.7 310.5 400.8 310.7 401.0 310.8 401.1 310.9 401.3 311.0 401.5 311.1 401.6 311.3 401.8 311.4 402.0 311.5 402.2 311.6 402.4 311.7 402.6 311.8 402.8 311.9 403.1 312.0 403.3 312.1 403.6 312.2 403.9 312.3 404.2 312.4 404.5 312.4 404.8 312.5 405.0 312.5"/>
<path d="M554.1 343.9 554.8 343.9 555.5 343.9 556.2 343.9 556.9 343.9 557.7 344.0 558.4 344.0 559.1 344.0 559.8 344.0 560.5 344.1 561.3 344.1 562.0 344.1 562.7 344.2 563.5 344.2 564.2 344.3 564.9 344.3 565.7 344.4 566.4 344.4 567.1 344.5 567.9 344.5 568.6 344.6 569.4 344.7 570.1 344.7 570.9 344.8 571.6 344.8 572.4 344.9 573.2 345.0 573.9 345.0 574.7 345.1 575.5 345.2 576.2 345.2 577.0 345.3 577.8 345.4 578.5 345.4 579.3 345.5 580.1 345.6 580.9 345.6 581.7 345.7 582.5 345.7 583.3 345.8 584.0 345.9 584.8 345.9 585.6 346.0 586.4 346.0 587.2 346.1 588.0 346.1 588.9 346.2 589.7 346.2 590.5 346.3 591.3 346.3 592.1 346.3 592.9 346.4 593.8 346.4 594.6 346.4 595.4 346.4 596.2 346.5 596.4 346.5"/>
<path d="M642.5 346.7 643.1 346.7 643.8 346.7 644.4 346.7 645.0 346.6 645.6 346.6 646.3 346.5 646.9 346.5 647.5 346.4 648.1 346.4 648.8 346.3 649.4 346.2 650.0 346.2 650.6 346.1 651.2 346.0 651.9 345.9 652.5 345.8 653.1 345.7 653.7 345.6 654.3 345.5 655.0 345.4 655.6 345.3 656.2 345.2 656.8 345.1 657.5 345.0 658.1 344.9 658.7 344.8 659.4 344.7 660.0 344.5 660.7 344.4 661.3 344.3 661.9 344.2 662.6 344.1 663.3 344.0 663.9 343.8 664.6 343.7 665.3 343.6 665.9 343.5 666.6 343.4 667.3 343.3 668.0 343.2 668.7 343.1 669.4 343.0 670.1 342.9 670.8 342.8 671.5 342.7 672.2 342.7 673.0 342.6 673.7 342.5 674.4 342.4 675.2 342.4 675.9 342.3 676.7 342.3 677.5 342.2 678.3 342.2 679.1 342.2 679.1 342.2"/>
<path d="M533.2 362.5 533.2 363.8 533.2 365.1 533.2 366.4 533.1 367.6 533.0 368.8 532.8 370.0 532.6 371.1 532.4 372.2 532.1 373.3 531.8 374.4 531.4 375.4 531.0 376.4 530.6 377.4 530.1 378.3 529.6 379.2 529.1 380.1 528.5 381.0 527.8 381.8 527.1 382.6 526.4 383.4 525.6 384.1 524.8 384.8 523.9 385.5 523.0 386.2 522.1 386.8 521.1 387.5 520.0 388.1 518.9 388.6 517.7 389.2 516.5 389.7 515.3 390.2 514.0 390.7 512.6 391.2 511.2 391.6 509.7 392.0 508.2 392.4 506.6 392.8 505.0 393.1 503.3 393.4 501.6 393.7 499.8 394.0 498.0 394.3 496.1 394.5 494.1 394.8 492.1 395.0 490.0 395.2 487.9 395.3 485.7 395.5 483.4 395.6 481.1 395.7 478.7 395.8 476.3 395.9 473.8 396.0 471.2 396.0 468.6 396.0 465.9 396.1 463.1 396.0 460.6 396.0"/>
<path d="M622.0 364.9 622.1 366.6 622.2 368.3 622.1 370.1 622.0 371.8 621.7 373.6 621.4 375.3 621.0 377.0 620.6 378.8 620.0 380.4 619.4 382.1 618.6 383.7 617.9 385.3 617.0 386.9 616.1 388.4 615.1 389.8 614.0 391.1 612.9 392.4 611.7 393.6 610.5 394.8 609.3 395.8 607.9 396.8 606.6 397.7 605.2 398.6 603.7 399.4 602.2 400.1 600.7 400.7 599.2 401.3 597.6 401.9 596.0 402.4 594.3 402.8 592.6 403.2 590.9 403.6 589.2 403.9 587.5 404.1 585.8 404.4 584.0 404.6 582.2 404.7 580.4 404.9 578.7 405.0 576.9 405.1 575.1 405.1 573.3 405.2 571.5 405.2 569.7 405.2 567.9 405.2 566.2 405.2 564.4 405.1 562.6 405.1 560.9 405.1 559.1 405.0 557.3 404.9 555.6 404.8 553.8 404.7 552.1 404.6 550.4 404.5 548.6 404.4 546.9 404.2 545.2 404.1 543.4 404.0 541.7 403.8 540.0 403.6 538.3 403.5 536.6 403.3 534.8 403.1 533.1 402.9 531.4 402.7 529.7 402.5 528.0 402.3 526.3 402.1 524.6 401.9 522.9 401.7 521.2 401.5 519.5 401.3 517.8 401.0 516.0 400.8 514.3 400.6 512.6 400.4 510.9 400.2 509.2 400.0 507.5 399.7 505.8 399.5 504.1 399.3 502.4 399.1 500.7 398.9 499.0 398.7 497.3 398.5 495.6 398.3 493.9 398.1 492.2 397.9 490.5 397.8 488.7 397.6 487.0 397.4 485.3 397.3 483.6 397.1 481.9 397.0 480.1 396.8 478.4 396.7 476.7 396.6 474.9 396.5 473.2 396.4 471.5 396.3 469.7 396.2 468.0 396.1 466.2 396.1 464.5 396.0 462.7 396.0 460.9 396.0 460.6 396.0"/>
<path d="M704.0 360.3 704.0 362.8 704.0 365.4 704.1 368.0 704.1 370.7 704.1 373.4 703.9 376.2 703.7 378.8 703.3 381.5 702.7 384.0 701.9 386.5 700.9 388.9 699.8 391.2 698.5 393.4 697.1 395.6 695.6 397.6 693.9 399.5 692.2 401.3 690.3 403.0 688.3 404.6 686.3 406.1 684.1 407.5 681.9 408.7 679.7 409.8 677.3 410.8 674.9 411.7 672.5 412.5 670.0 413.2 667.5 413.8 664.9 414.3 662.3 414.7 659.6 415.0 657.0 415.3 654.3 415.5 651.6 415.6 648.9 415.7 646.2 415.7 643.5 415.7 640.8 415.6 638.1 415.5 635.5 415.3 632.8 415.2 630.2 415.0 627.6 414.7 625.0 414.5 622.4 414.2 619.8 413.9 617.3 413.6 614.7 413.3 612.2 413.0 609.7 412.6 607.1 412.3 604.6 411.9 602.1 411.6 599.5 411.2 597.0 410.9 594.4 410.5 591.9 410.2 589.3 409.8 586.8 409.5 584.2 409.1 581.6 408.8 579.1 408.4 576.5 408.1 573.9 407.7 571.4 407.4 568.8 407.0 566.2 406.7 563.6 406.3 561.1 406.0 558.5 405.6 555.9 405.3 553.3 405.0 550.7 404.6 548.1 404.3 545.5 404.0 542.9 403.6 540.4 403.3 537.8 403.0 535.2 402.7 532.6 402.4 530.0 402.1 527.4 401.8 524.8 401.5 522.2 401.2 519.6 400.9 517.0 400.6 514.4 400.3 511.8 400.1 509.2 399.8 506.6 399.5 504.0 399.3 501.4 399.0 498.8 398.8 496.2 398.6 493.6 398.3 491.0 398.1 488.4 397.9 485.8 397.7 483.2 397.5 480.7 397.3 478.1 397.1 475.5 397.0 472.9 396.8 470.3 396.6 467.7 396.5 465.1 396.4 462.6 396.2 460.6 396.1"/>
</g>
<g fill="#1f1f1f">
<path d="M87.8 151.9 L82.0 150.0 L82.0 153.8 Z"/>
<path d="M81.2 213.2 L75.4 211.2 L75.4 215.1 Z"/>
<path d="M74.8 272.9 L69.0 270.9 L69.0 274.8 Z"/>
<path d="M183.3 209.3 L177.5 207.4 L177.5 211.2 Z"/>
<path d="M183.3 209.3 L177.5 207.4 L177.5 211.2 Z"/>
<path d="M183.3 209.3 L177.5 207.4 L177.5 211.2 Z"/>
<path d="M254.4 104.1 L248.6 102.1 L248.6 106.0 Z"/>
<path d="M330.4 91.3 L324.6 89.3 L324.6 93.2 Z"/>
<path d="M330.4 143.1 L324.6 141.2 L324.6 145.0 Z"/>
<path d="M327.6 195.5 L321.8 193.6 L321.8 197.4 Z"/>
<path d="M391.1 91.2 L385.3 89.2 L385.3 93.2 Z"/>
<path d="M394.1 143.2 L388.3 141.2 L388.3 145.1 Z"/>
<path d="M390.9 195.6 L385.1 193.7 L385.1 197.5 Z"/>
<path d="M481.6 114.2 L475.8 112.2 L475.8 116.2 Z"/>
<path d="M483.8 218.7 L478.0 216.8 L478.0 220.6 Z"/>
<path d="M481.6 143.1 L475.8 141.2 L475.8 145.0 Z"/>
<path d="M483.8 215.3 L478.0 213.4 L478.0 217.2 Z"/>
<path d="M481.6 165.1 L475.8 163.2 L475.8 167.0 Z"/>
<path d="M483.8 223.6 L478.0 221.7 L478.0 225.5 Z"/>
<path d="M524.5 262.6 L518.7 260.7 L518.7 264.6 Z"/>
<path d="M432.6 287.4 L430.7 281.6 L434.6 281.6 Z"/>
<path d="M582.6 157.7 L576.8 155.8 L576.8 159.6 Z"/>
<path d="M652.5 162.1 L646.7 160.2 L646.7 164.0 Z"/>
<path d="M723.4 162.6 L717.6 160.7 L717.6 164.5 Z"/>
<path d="M198.1 77.0 L196.2 71.2 L200.0 71.2 Z"/>
<path d="M198.1 77.0 L196.2 71.2 L200.0 71.2 Z"/>
<path d="M457.6 296.0 L463.4 294.1 L463.4 297.9 Z"/>
<path d="M457.6 302.1 L463.4 300.2 L463.4 304.1 Z"/>
<path d="M457.6 308.2 L463.4 306.2 L463.4 310.1 Z"/>
<path d="M511.2 343.9 L505.4 341.9 L505.4 345.8 Z"/>
<path d="M432.7 376.3 L430.8 370.5 L434.6 370.5 Z"/>
<path d="M408.2 312.8 L402.4 310.9 L402.4 314.8 Z"/>
<path d="M599.6 346.5 L593.8 344.6 L593.8 348.4 Z"/>
<path d="M682.3 342.1 L676.5 340.2 L676.5 344.1 Z"/>
<path d="M457.4 396.0 L463.2 394.1 L463.2 397.9 Z"/>
<path d="M457.4 396.0 L463.2 394.1 L463.2 397.9 Z"/>
<path d="M457.4 396.0 L463.2 394.1 L463.2 397.9 Z"/>
</g>
<rect x="357" y="290" width="39" height="38.5" fill="#000" opacity="0.2" filter="url(#sh)"/>
<rect x="356.1" y="285.2" width="40.7" height="40.8" fill="url(#st)"/>
<g font-size="4.05" fill="#6e2a3c" text-anchor="middle">
<text x="376.3" y="295.05">За присутствие</text>
<text x="376.3" y="300.55">онлайн на</text>
<text x="376.3" y="306.55">вебинаре, дарим</text>
<text x="376.3" y="311.75">недорогой</text>
<text x="376.3" y="316.85">продукт</text>
</g>
<g fill="#f4f4f4" stroke="#3c3c3c" stroke-width="1.1">
<rect x="3.2" y="216.5" width="31.3" height="22.1"/>
<rect x="88.1" y="137.1" width="40.1" height="30.2"/>
<rect x="81.4" y="192.1" width="53.2" height="42.3"/>
<rect x="75.0" y="253.1" width="66.1" height="40.3"/>
<rect x="183.5" y="191.7" width="47.5" height="35.3"/>
<rect x="174.6" y="77.5" width="47.3" height="35.3"/>
<rect x="254.6" y="87.4" width="49.0" height="33.9"/>
<rect x="330.6" y="73.7" width="51.8" height="35.3"/>
<rect x="330.6" y="125.5" width="51.8" height="35.0"/>
<rect x="327.8" y="178.1" width="52.2" height="35.3"/>
<rect x="391.3" y="73.7" width="51.8" height="35.3"/>
<rect x="394.3" y="125.5" width="51.2" height="35.5"/>
<rect x="391.1" y="178.1" width="52.0" height="35.3"/>
<rect x="481.8" y="91.1" width="51.6" height="103.6"/>
<rect x="484.0" y="201.4" width="51.6" height="34.9"/>
<rect x="524.8" y="250.2" width="29.4" height="25.2"/>
<rect x="582.8" y="135.6" width="47.3" height="44.3"/>
<rect x="652.7" y="144.8" width="51.0" height="35.1"/>
<rect x="723.6" y="144.8" width="51.4" height="35.1"/>
<rect x="408.5" y="287.6" width="48.4" height="41.5"/>
<rect x="407.8" y="376.5" width="49.2" height="38.7"/>
<rect x="511.6" y="325.6" width="42.5" height="36.9"/>
<rect x="599.8" y="327.8" width="42.7" height="37.1"/>
<rect x="682.5" y="323.4" width="42.7" height="36.9"/>
</g>
<g fill="#666666" text-anchor="middle">
<text transform="translate(18.9 225.43) scale(1 1.13)" font-size="5.80">Человек</text>
<text transform="translate(18.9 233.63) scale(1 1.13)" font-size="5.80">разумный?</text>
<text transform="translate(108.1 145.88) scale(1 1.13)" font-size="5.95">ИГ страница</text>
<text transform="translate(108.1 153.88) scale(1 1.13)" font-size="5.95">используем</text>
<text transform="translate(108.1 161.98) scale(1 1.13)" font-size="5.95">Таплинк</text>
<text transform="translate(108.0 202.28) scale(1 1.13)" font-size="5.95">ФБ страница</text>
<text transform="translate(108.0 210.88) scale(1 1.13)" font-size="5.95">через посты,</text>
<text transform="translate(108.0 219.38) scale(1 1.13)" font-size="5.95">Comment to</text>
<text transform="translate(108.0 227.38) scale(1 1.13)" font-size="5.95">Messenger</text>
<text transform="translate(108.0 262.88) scale(1 1.13)" font-size="5.95">ВК сообщество через</text>
<text transform="translate(108.0 270.98) scale(1 1.13)" font-size="5.95">кнопку в шапке</text>
<text transform="translate(108.0 279.38) scale(1 1.13)" font-size="5.95">профиля, кнопку</text>
<text transform="translate(108.0 287.08) scale(1 1.13)" font-size="5.95">справа</text>
<text transform="translate(207.2 199.08) scale(1 1.13)" font-size="5.95">мини-лендинг</text>
<text transform="translate(207.2 207.58) scale(1 1.13)" font-size="5.95">(выбирает</text>
<text transform="translate(207.2 215.08) scale(1 1.13)" font-size="5.95">удобный</text>
<text transform="translate(207.2 223.68) scale(1 1.13)" font-size="5.95">способ)</text>
<text transform="translate(198.2 92.28) scale(1 1.13)" font-size="5.95">База</text>
<text transform="translate(198.2 100.38) scale(1 1.13)" font-size="5.95">подписчиков</text>
<text transform="translate(279.1 102.18) scale(1 1.13)" font-size="5.95">Лид-магнит</text>
<text transform="translate(279.1 110.48) scale(1 1.13)" font-size="5.95">Тестирование</text>
<text transform="translate(356.5 93.28) scale(1 1.13)" font-size="5.95">80-100 баллов</text>
<text transform="translate(356.5 145.28) scale(1 1.13)" font-size="5.95">80-89 баллов</text>
<text transform="translate(353.9 193.58) scale(1 1.13)" font-size="5.95">79 и меньше</text>
<text transform="translate(353.9 201.58) scale(1 1.13)" font-size="5.95">баллов</text>
<text transform="translate(417.2 87.32) scale(1 1.13)" font-size="4.35">рекомендации с чего</text>
<text transform="translate(417.2 93.12) scale(1 1.13)" font-size="4.35">начать для этого</text>
<text transform="translate(417.2 98.82) scale(1 1.13)" font-size="4.35">уровня</text>
<text transform="translate(419.9 136.98) scale(1 1.13)" font-size="5.95">рекомендации с</text>
<text transform="translate(419.9 145.28) scale(1 1.13)" font-size="5.95">чего начать для</text>
<text transform="translate(419.9 153.58) scale(1 1.13)" font-size="5.95">этого уровня</text>
<text transform="translate(417.1 188.88) scale(1 1.13)" font-size="5.95">рекомендации с</text>
<text transform="translate(417.1 197.28) scale(1 1.13)" font-size="5.95">чего начать для</text>
<text transform="translate(417.1 205.38) scale(1 1.13)" font-size="5.95">этого уровня</text>
<text transform="translate(507.6 100.28) scale(1 1.13)" font-size="5.95">Письмо с</text>
<text transform="translate(507.6 108.28) scale(1 1.13)" font-size="5.95">Области</text>
<text transform="translate(507.6 116.38) scale(1 1.13)" font-size="5.95">развития и</text>
<text transform="translate(507.6 125.08) scale(1 1.13)" font-size="5.95">корректировки</text>
<text transform="translate(507.6 132.88) scale(1 1.13)" font-size="5.95">можно сделать</text>
<text transform="translate(507.6 141.18) scale(1 1.13)" font-size="5.95">либо они</text>
<text transform="translate(507.6 149.18) scale(1 1.13)" font-size="5.95">выбирают,</text>
<text transform="translate(507.6 157.08) scale(1 1.13)" font-size="5.95">какой пункт</text>
<text transform="translate(507.6 165.18) scale(1 1.13)" font-size="5.95">хотят</text>
<text transform="translate(507.6 173.68) scale(1 1.13)" font-size="5.95">проработать,</text>
<text transform="translate(507.6 181.68) scale(1 1.13)" font-size="5.95">либо дарим в</text>
<text transform="translate(507.6 189.78) scale(1 1.13)" font-size="5.95">виде чек-листа</text>
<text transform="translate(509.8 216.58) scale(1 1.13)" font-size="5.95">Приглашаем на</text>
<text transform="translate(509.8 224.58) scale(1 1.13)" font-size="5.95">вебинар</text>
<text transform="translate(539.5 264.78) scale(1 1.13)" font-size="5.95">нет</text>
<text transform="translate(606.5 143.28) scale(1 1.13)" font-size="5.95">Письмо 1</text>
<text transform="translate(606.5 151.38) scale(1 1.13)" font-size="5.95">усиление боли</text>
<text transform="translate(606.5 159.78) scale(1 1.13)" font-size="5.95">+ предложение</text>
<text transform="translate(606.5 167.88) scale(1 1.13)" font-size="5.95">прийти на</text>
<text transform="translate(606.5 175.88) scale(1 1.13)" font-size="5.95">вебинар</text>
<text transform="translate(678.2 155.78) scale(1 1.13)" font-size="5.95">подогревающее</text>
<text transform="translate(678.2 164.08) scale(1 1.13)" font-size="5.95">письмо на</text>
<text transform="translate(678.2 172.08) scale(1 1.13)" font-size="5.95">вебинар</text>
<text transform="translate(749.3 151.78) scale(1 1.13)" font-size="5.95">Письмо 2</text>
<text transform="translate(749.3 159.98) scale(1 1.13)" font-size="5.95">Усиливаем боль</text>
<text transform="translate(749.3 168.48) scale(1 1.13)" font-size="5.95">+ предложение</text>
<text transform="translate(749.3 176.58) scale(1 1.13)" font-size="5.95">на вебинар</text>
<text transform="translate(432.7 301.78) scale(1 1.13)" font-size="5.95">Триггвайер</text>
<text transform="translate(432.7 309.98) scale(1 1.13)" font-size="5.95">Бесплатный</text>
<text transform="translate(432.7 318.48) scale(1 1.13)" font-size="5.95">вебинар</text>
<text transform="translate(432.4 389.48) scale(1 1.13)" font-size="5.95">Основной курс</text>
<text transform="translate(432.4 398.08) scale(1 1.13)" font-size="5.95">Карьера Без</text>
<text transform="translate(432.4 406.18) scale(1 1.13)" font-size="5.95">Барьера</text>
<text transform="translate(532.9 337.78) scale(1 1.13)" font-size="5.95">Письмо 1</text>
<text transform="translate(532.9 345.98) scale(1 1.13)" font-size="5.95">для дожима</text>
<text transform="translate(532.9 354.08) scale(1 1.13)" font-size="5.95">на курс</text>
<text transform="translate(621.1 339.78) scale(1 1.13)" font-size="5.95">Письмо 2</text>
<text transform="translate(621.1 347.98) scale(1 1.13)" font-size="5.95">дожима на</text>
<text transform="translate(621.1 356.08) scale(1 1.13)" font-size="5.95">курс</text>
<text transform="translate(703.9 335.58) scale(1 1.13)" font-size="5.95">Письмо 3</text>
<text transform="translate(703.9 343.78) scale(1 1.13)" font-size="5.95">дожима на</text>
<text transform="translate(703.9 351.88) scale(1 1.13)" font-size="5.95">курс</text>
</g>
<rect x="774.5" y="337" width="50" height="100" fill="#000" opacity="0.10" filter="url(#sh)"/>
<rect x="776.3" y="337" width="45" height="100" fill="#ffffff"/>
<rect x="777.3" y="336.8" width="45" height="1.1" fill="#2e2e2e"/>
<rect x="784.3" y="376.4" width="35" height="25" fill="#90b3ef"/>
<rect x="796.1" y="373.1" width="8.2" height="3.8" fill="#86abed"/>
<rect x="794.4" y="384.4" width="10.4" height="9" fill="#7fa5ea"/>
<rect x="777.8" y="390.2" width="16.6" height="3.9" fill="#90b3ef"/>
<rect x="784.3" y="390.2" width="10.1" height="3.9" fill="#7099e6"/>
<rect x="792.8" y="397.6" width="27" height="8.2" fill="#8db0ee"/>
<rect x="792.8" y="397.6" width="27" height="3.8" fill="#7fa5ea"/>
<rect x="792.8" y="393.8" width="27" height="3.8" fill="#e6eefc"/>
<rect x="795.2" y="379.6" width="9.1" height="4.7" fill="#ffffff"/>
</svg>
</body></html>
